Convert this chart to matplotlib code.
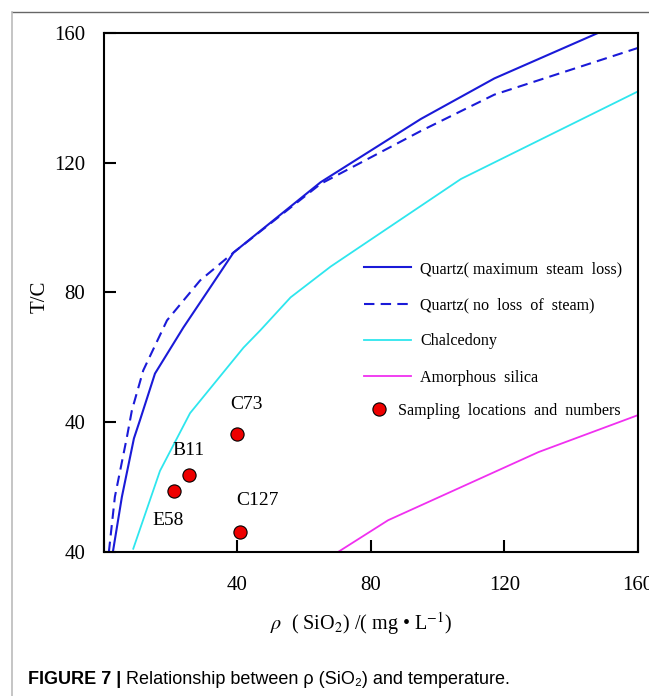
import matplotlib
matplotlib.use('Agg')
import matplotlib.pyplot as plt
from matplotlib.lines import Line2D

plt.rcParams['mathtext.fontset'] = 'stix'
SERIF = ['Liberation Serif', 'DejaVu Serif']
SANS = ['Liberation Sans', 'DejaVu Sans']

# geothermometer curves
qz_max_x = [2.8, 5.5, 9.1, 10.9, 15.4, 23.9, 31.9, 38.9, 65, 95, 117, 148]
qz_max_y = [0, 17, 35, 40.6, 55, 69.2, 81.5, 92.3, 114, 133.5, 146, 160]

qz_noloss_x = [1.6, 3.4, 7, 8.5, 11.9, 19, 28.9, 38.9, 65, 95, 117, 160]
qz_noloss_y = [0, 17, 35.4, 43.7, 56, 71.4, 83.7, 92.3, 113.5, 129.8, 141, 155.4]

chalc_x = [8.9, 16.9, 25.9, 41.9, 46.9, 56, 68, 107, 160]
chalc_y = [1, 25, 42.8, 63, 68.3, 78.5, 88, 115, 142]

amorph_x = [70.2, 85.2, 130.2, 160]
amorph_y = [0, 9.8, 30.8, 42.2]

# sampling points
sample_names = ['C73', 'B11', 'E58', 'C127']
sample_x = [40, 25.7, 21.1, 40.9]
sample_y = [36.3, 23.7, 18.8, 6.2]
label_x = [42.9, 25.4, 19.4, 46]
label_y = [45.5, 31.4, 9.8, 16]

ticks = [0, 40, 80, 120, 160]
ytick_labels = ['40', '40', '80', '120', '160']
xtick_labels = ['', '40', '80', '120', '160']

fig = plt.figure(figsize=(6.49, 6.96), dpi=100)
ax = fig.add_axes([0.1595, 0.2069, 0.8236, 0.7457])

l1, = ax.plot(qz_max_x, qz_max_y, color='#1a1ad8', lw=1.5,
              label='Quartz( maximum  steam  loss)')
l2, = ax.plot(qz_noloss_x, qz_noloss_y, color='#1a1ad8', lw=1.5,
              linestyle=(0, (5, 3)), label='Quartz( no  loss  of  steam)')
l3, = ax.plot(chalc_x, chalc_y, color='#2ee6ee', lw=1.3, label='Chalcedony')
l4, = ax.plot(amorph_x, amorph_y, color='#f030f0', lw=1.3, label='Amorphous  silica')
pts, = ax.plot(sample_x, sample_y, 'o', color='#ee0000', mec='black', mew=0.8,
               ms=9.5, label='Sampling  locations  and  numbers', zorder=5)

for name, tx, ty in zip(sample_names, label_x, label_y):
    ax.text(tx, ty, name, ha='center', va='center', fontsize=14, family=SERIF)

ax.set_xlim(0, 160)
ax.set_ylim(0, 160)
ax.set_xticks(ticks)
ax.set_xticklabels(xtick_labels)
ax.set_yticks(ticks)
ax.set_yticklabels(ytick_labels)
ax.tick_params(direction='in', length=8.5, width=1.5, labelsize=15)
ax.tick_params(axis='x', pad=17)
ax.tick_params(axis='y', pad=13)
for lab in ax.get_xticklabels() + ax.get_yticklabels():
    lab.set_family(SERIF)
for sp in ax.spines.values():
    sp.set_linewidth(1.5)
    sp.set_color('black')

ax.set_ylabel('T/C', fontsize=15, family=SERIF)
ax.yaxis.set_label_coords(-0.1015, 0.491)
ax.set_xlabel(r'$\rho$  ( SiO$_2$) /( mg • L$^{-1}$)', fontsize=14.5, family=SERIF)
ax.xaxis.set_label_coords(0.482, -0.112)

leg1 = ax.legend(handles=[l1, l2, l3, l4], loc='upper left',
                 bbox_to_anchor=(0.4724, 0.576), frameon=False, borderpad=0,
                 handlelength=2.9, handletextpad=0.6, labelspacing=1.25,
                 prop={'family': SERIF, 'size': 11.6})
ax.add_artist(leg1)
ax.legend(handles=[pts], loc='upper left', bbox_to_anchor=(0.485, 0.3026),
          frameon=False, borderpad=0, handlelength=1.0, handletextpad=0.7,
          prop={'family': SERIF, 'size': 11.6})

# card border
fig.add_artist(Line2D([12 / 649, 1], [1 - 12 / 696] * 2, color='#666666', lw=1.0))
fig.add_artist(Line2D([12 / 649] * 2, [0, 1 - 12 / 696], color='#bbbbbb', lw=1.2))

# caption
cap = fig.text(28 / 649, 1 - 680 / 696, 'FIGURE 7 | ', fontsize=13,
               weight='bold', family=SANS, va='center')
ax.annotate('Relationship between ρ (SiO₂) and temperature.', xy=(1, 0.5),
            xycoords=cap, va='center', ha='left', fontsize=13, family=SANS,
            annotation_clip=False)

fig.savefig('out.png', dpi=100)
